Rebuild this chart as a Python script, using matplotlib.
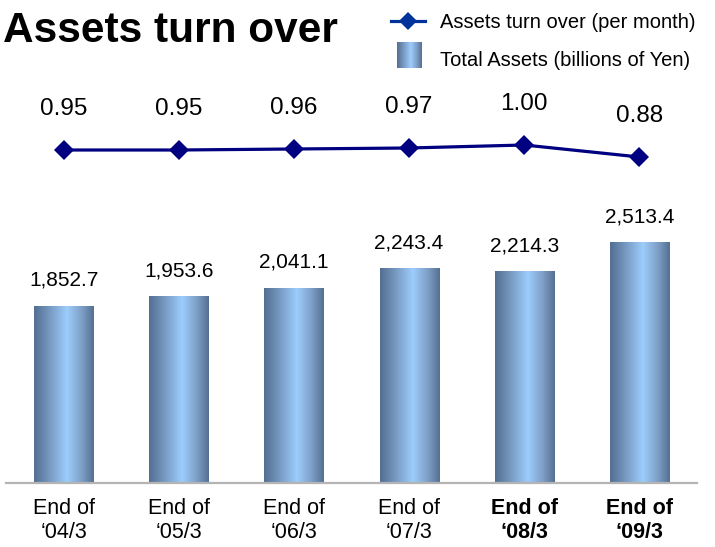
import numpy as np
import matplotlib
matplotlib.use("Agg")
import matplotlib.pyplot as plt
from matplotlib.colors import LinearSegmentedColormap
from matplotlib.lines import Line2D

plt.rcParams['font.family'] = ['Liberation Sans', 'DejaVu Sans']

# ---- data ----
periods = ["End of\n\u201804/3", "End of\n\u201805/3", "End of\n\u201806/3",
           "End of\n\u201807/3", "End of\n\u201808/3", "End of\n\u201809/3"]
bold_periods = [False, False, False, False, True, True]
total_assets = [1852.7, 1953.6, 2041.1, 2243.4, 2214.3, 2513.4]
asset_labels = ["1,852.7", "1,953.6", "2,041.1", "2,243.4", "2,214.3", "2,513.4"]
turnover = [0.95, 0.95, 0.96, 0.97, 1.00, 0.88]
turnover_labels = ["0.95", "0.95", "0.96", "0.97", "1.00", "0.88"]

W, H = 715, 547
fig = plt.figure(figsize=(W / 100, H / 100), dpi=100)

ax = fig.add_axes([6 / W, 64 / H, 691 / W, 402 / H])
x = np.arange(len(periods))

cmap = LinearSegmentedColormap.from_list(
    "barg", [(0.0, "#536e92"), (0.2, "#6f8fb5"), (0.55, "#9dcdfd"),
             (0.8, "#7e9fc6"), (1.0, "#546f93")])
grad = np.linspace(0, 1, 256).reshape(1, -1)

bars = ax.bar(x, total_assets, width=0.513, color="none", edgecolor="none", zorder=2)
for b in bars:
    x0, y0 = b.get_x(), b.get_y()
    im = ax.imshow(grad, extent=[x0, x0 + b.get_width(), y0, y0 + b.get_height()],
                   aspect="auto", cmap=cmap, zorder=2, interpolation="bilinear")
    im.set_clip_path(b)

for xi, v, lab in zip(x, total_assets, asset_labels):
    ax.annotate(lab, (xi, v), xytext=(0, 14.4), textcoords="offset points",
                ha="center", va="baseline", fontsize=15, color="black")

ax.set_xlim(-0.5, 5.5)
ax.set_ylim(0, 4200)
for s in ["top", "left", "right"]:
    ax.spines[s].set_visible(False)
ax.spines["bottom"].set_color("#b4b4b4")
ax.spines["bottom"].set_linewidth(1.6)
ax.set_yticks([])
ax.set_xticks(x)
ax.set_xticklabels(periods, fontsize=15.5, linespacing=1.2)
for t, bld in zip(ax.get_xticklabels(), bold_periods):
    if bld:
        t.set_fontweight("bold")
ax.tick_params(axis="x", length=0, pad=11)

ax2 = ax.twinx()
ax2.set_ylim(-2.38, 1.64)
ax2.axis("off")
ax2.plot(x, turnover, color="#000080", lw=2.3, marker="D", markersize=10.5,
         markeredgewidth=0, zorder=3)
for xi, v, lab in zip(x, turnover, turnover_labels):
    ax2.annotate(lab, (xi, v), xytext=(0, 29.5), textcoords="offset points",
                 ha="center", va="center", fontsize=17.5, color="black")

# title
fig.text(3 / W, 1 - 42 / H, "Assets turn over", fontsize=30.5, fontweight="bold",
         ha="left", va="baseline")

# legend (drawn in figure pixel coordinates)
lax = fig.add_axes([0, 0, 1, 1], zorder=5)
lax.add_line(Line2D([391, 425], [21, 21], color="#003399", lw=2.3))
lax.plot([408], [21], marker="D", markersize=9, color="#003399", markeredgewidth=0)
lax.imshow(grad, extent=[397, 422, 68, 42], aspect="auto", cmap=cmap, zorder=3)
lax.set_xlim(0, W)
lax.set_ylim(H, 0)
lax.axis("off")
lax.text(440, 23, "Assets turn over (per month)", fontsize=14.5, va="center", ha="left")
lax.text(440, 60, "Total Assets (billions of Yen)", fontsize=14.5, va="center", ha="left")

fig.savefig("out.png", dpi=100)
